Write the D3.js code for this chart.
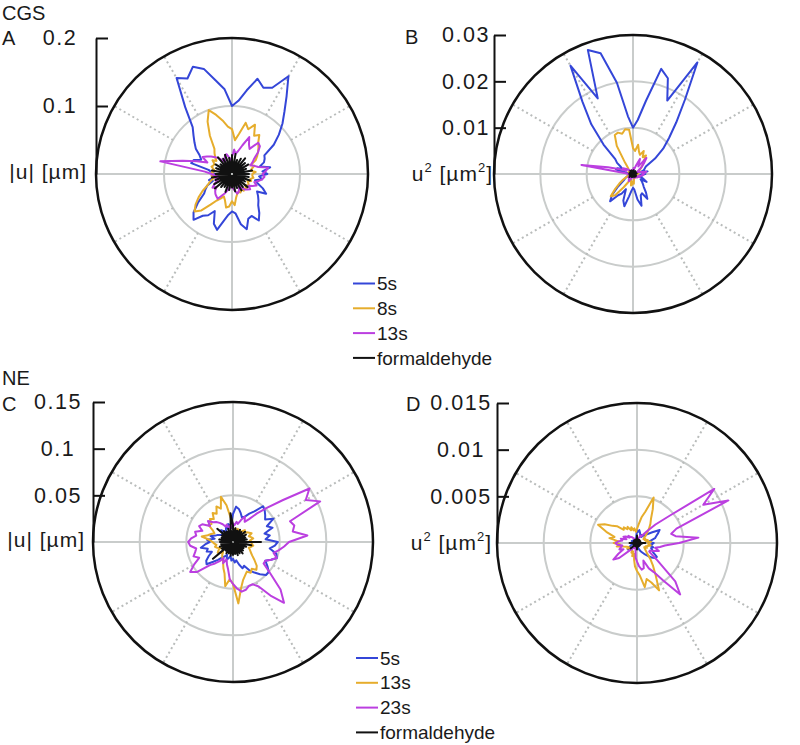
<!DOCTYPE html>
<html><head><meta charset="utf-8">
<script src="https://cdn.jsdelivr.net/npm/d3@7"></script>
<style>
body{margin:0;background:#fff}
text{font-family:"Liberation Sans",Arial,Helvetica,sans-serif;fill:#1a1a1a}
</style>
</head><body>
<svg id="chart" width="800" height="745"></svg>
<script>
// ---------- DATA (values equally spaced in angle, counter-clockwise from east) ----------
const A_5s = [0.052,0.045,0.057,0.042,0.05,0.053, 0.055,0.075,0.09,0.105,0.12,0.14, 0.166,0.14,0.135,0.145,0.125,0.108,
  0.1,0.125,0.14,0.16,0.168,0.155, 0.163,0.12,0.09,0.08,0.072,0.065, 0.055,0.05,0.06,0.062,0.035,0.03,
  0.025,0.03,0.028,0.035,0.03,0.04, 0.045,0.05,0.065,0.08,0.088,0.075, 0.07,0.06,0.078,0.085,0.07,0.06,
  0.055,0.058,0.075,0.084,0.07,0.068, 0.079,0.07,0.06,0.055,0.05,0.045, 0.058,0.05,0.04,0.035,0.045,0.04];
const A_8s = [0.03,0.035,0.028,0.03,0.035,0.03, 0.04,0.045,0.05,0.055,0.06,0.07, 0.065,0.08,0.07,0.078,0.06,0.05,
  0.066,0.07,0.08,0.09,0.1,0.085, 0.065,0.045,0.04,0.035,0.03,0.035, 0.03,0.03,0.032,0.028,0.025,0.03,
  0.028,0.03,0.025,0.03,0.035,0.04, 0.05,0.06,0.07,0.078,0.07,0.055, 0.045,0.04,0.035,0.04,0.05,0.048,
  0.04,0.046,0.035,0.03,0.028,0.03, 0.025,0.03,0.028,0.03,0.025,0.03, 0.028,0.025,0.03,0.028,0.032,0.03];
const A_13s = [0.045,0.05,0.054,0.04,0.035,0.03, 0.035,0.04,0.05,0.058,0.06,0.045, 0.05,0.06,0.045,0.035,0.03,0.036,
  0.025,0.02,0.025,0.03,0.03,0.025, 0.02,0.025,0.03,0.035,0.04,0.045, 0.05,0.04,0.055,0.075,0.107,0.04,
  0.03,0.025,0.02,0.025,0.02,0.025, 0.03,0.035,0.03,0.035,0.038,0.04, 0.042,0.035,0.03,0.025,0.02,0.02,
  0.018,0.022,0.025,0.03,0.028,0.025, 0.02,0.025,0.03,0.032,0.035,0.03, 0.035,0.04,0.035,0.04,0.045,0.048];
const A_form = [0.025,0.004,0.03,0.003,0.022,0.005,0.028,0.003,0.025,0.004,0.03,0.003,
  0.026,0.004,0.022,0.005,0.03,0.003,0.028,0.004,0.024,0.005,0.03,0.003,
  0.026,0.004,0.032,0.003,0.022,0.004,0.028,0.005,0.025,0.003,0.03,0.004,
  0.024,0.003,0.03,0.004,0.026,0.003,0.03,0.005,0.033,0.004,0.025,0.003,
  0.022,0.004,0.028,0.003,0.024,0.004,0.02,0.005,0.026,0.003,0.022,0.004,
  0.028,0.003,0.025,0.004,0.03,0.003,0.022,0.005,0.028,0.003,0.025,0.004];

const B_5s = [0.0027,0.002,0.0032,0.0018,0.0025,0.0028, 0.0032,0.0058,0.0085,0.011,0.0145,0.0195, 0.0278,0.0175,0.022,0.0235,0.016,0.0117,
  0.01,0.0125,0.02,0.027,0.0285,0.018, 0.027,0.019,0.014,0.009,0.005,0.0042, 0.003,0.0025,0.0036,0.0038,0.0012,0.0009,
  0.0006,0.0009,0.0008,0.0012,0.0009,0.0016, 0.002,0.0025,0.0042,0.0064,0.0077,0.0056, 0.0049,0.0036,0.0061,0.0072,0.0049,0.0036,
  0.003,0.0034,0.0056,0.0071,0.0049,0.0046, 0.0062,0.0049,0.0036,0.003,0.0025,0.002, 0.0034,0.0025,0.0016,0.0012,0.002,0.0016];
const B_8s = [0.0009,0.0012,0.0008,0.0009,0.0012,0.0009, 0.0016,0.002,0.0025,0.003,0.0036,0.0049, 0.0042,0.0055,0.0044,0.005,0.0064,0.005,
  0.0056,0.0096,0.0098,0.009,0.0095,0.0093, 0.007,0.003,0.0016,0.0012,0.0009,0.0012, 0.0009,0.0009,0.001,0.0008,0.0006,0.0009,
  0.0008,0.0009,0.0006,0.0009,0.0012,0.0016, 0.0025,0.0036,0.005,0.0068,0.006,0.0035, 0.002,0.0016,0.0012,0.0016,0.0025,0.0023,
  0.0016,0.0021,0.0012,0.0009,0.0008,0.0009, 0.0006,0.0009,0.0008,0.0009,0.0006,0.0009, 0.0008,0.0006,0.0009,0.0008,0.001,0.0009];
const B_13s = [0.002,0.0025,0.0029,0.0016,0.0012,0.0009, 0.0012,0.0016,0.0025,0.0034,0.0045,0.002, 0.0025,0.0036,0.002,0.0012,0.0009,0.0013,
  0.0006,0.0004,0.0006,0.0009,0.0009,0.0006, 0.0004,0.0006,0.0009,0.0012,0.0016,0.002, 0.0025,0.0016,0.003,0.0056,0.0113,0.0016,
  0.0009,0.0006,0.0004,0.0006,0.0004,0.0006, 0.0009,0.0012,0.0009,0.0012,0.0014,0.0016, 0.0018,0.0012,0.0009,0.0006,0.0004,0.0004,
  0.0003,0.0005,0.0006,0.0009,0.0008,0.0006, 0.0004,0.0006,0.0009,0.001,0.0012,0.0009, 0.0012,0.0016,0.0012,0.0016,0.002,0.0023];
const B_form = [0.0006,0.0001,0.0008,0.0001,0.0005,0.0001,0.0007,0.0001,0.0006,0.0001,0.0008,0.0001,
  0.0006,0.0001,0.0005,0.0001,0.0008,0.0001,0.0007,0.0001,0.0006,0.0001,0.0008,0.0001,
  0.0006,0.0001,0.0009,0.0001,0.0005,0.0001,0.0007,0.0001,0.0006,0.0001,0.0008,0.0001,
  0.0006,0.0001,0.0008,0.0001,0.0006,0.0001,0.0008,0.0001,0.001,0.0001,0.0006,0.0001,
  0.0005,0.0001,0.0007,0.0001,0.0006,0.0001,0.0005,0.0001,0.0006,0.0001,0.0005,0.0001,
  0.0007,0.0001,0.0006,0.0001,0.0008,0.0001,0.0005,0.0001,0.0007,0.0001,0.0006,0.0001];

const C_5s = [0.048,0.035,0.04,0.035,0.045,0.04, 0.05,0.042,0.045,0.048,0.05,0.04, 0.035,0.03,0.028,0.032,0.036,0.038,
  0.03,0.02,0.018,0.02,0.015,0.018, 0.015,0.012,0.015,0.018,0.015,0.012, 0.015,0.018,0.02,0.025,0.02,0.028,
  0.025,0.03,0.035,0.028,0.03,0.025, 0.03,0.035,0.037,0.03,0.025,0.02, 0.018,0.015,0.02,0.018,0.015,0.02,
  0.018,0.022,0.02,0.025,0.03,0.028, 0.035,0.04,0.045,0.05,0.05,0.045, 0.04,0.045,0.05,0.048,0.04,0.045];
const C_13s = [0.02,0.018,0.022,0.02,0.018,0.022, 0.02,0.018,0.015,0.018,0.015,0.012, 0.015,0.012,0.015,0.012,0.015,0.012,
  0.015,0.025,0.04,0.05,0.038,0.042, 0.035,0.038,0.032,0.035,0.03,0.032, 0.025,0.022,0.025,0.028,0.034,0.025,
  0.022,0.02,0.018,0.02,0.018,0.015, 0.018,0.02,0.018,0.015,0.018,0.02, 0.022,0.025,0.03,0.035,0.048,0.04,
  0.045,0.066,0.05,0.042,0.038,0.035, 0.038,0.035,0.039,0.036,0.03,0.025, 0.022,0.02,0.018,0.02,0.022,0.02];
const C_23s = [0.06,0.08,0.065,0.068,0.065,0.103, 0.09,0.1,0.07,0.052,0.04,0.03, 0.025,0.03,0.025,0.02,0.022,0.018,
  0.02,0.015,0.018,0.015,0.02,0.018, 0.022,0.025,0.028,0.03,0.035,0.03, 0.038,0.04,0.035,0.042,0.04,0.045,
  0.048,0.046,0.04,0.042,0.045,0.04, 0.048,0.056,0.05,0.035,0.03,0.025, 0.02,0.025,0.02,0.025,0.03,0.04,
  0.045,0.05,0.054,0.053,0.05,0.05, 0.055,0.07,0.085,0.072,0.052,0.04, 0.04,0.045,0.05,0.045,0.05,0.055];
const C_form = [0.03,0.003,0.015,0.002,0.014,0.003,0.016,0.002,0.017,0.003,0.014,0.002,
  0.015,0.003,0.013,0.002,0.015,0.003,0.018,0.031,0.014,0.002,0.015,0.003,
  0.013,0.002,0.015,0.003,0.022,0.002,0.014,0.003,0.013,0.002,0.015,0.003,
  0.014,0.002,0.013,0.003,0.015,0.002,0.014,0.003,0.028,0.002,0.012,0.003,
  0.014,0.002,0.013,0.003,0.015,0.002,0.014,0.003,0.013,0.002,0.015,0.003,
  0.014,0.002,0.016,0.003,0.014,0.002,0.013,0.003,0.015,0.002,0.02,0.003];

const D_5s = [0.0018,0.0012,0.0015,0.002,0.0022,0.0025, 0.0028,0.002,0.0015,0.0012,0.001,0.0008, 0.001,0.0008,0.001,0.0012,0.0014,0.0012,
  0.0014,0.0008,0.0005,0.0004,0.0005,0.0004, 0.0003,0.0004,0.0003,0.0004,0.0005,0.0004, 0.0005,0.0004,0.0006,0.0005,0.0004,0.0005,
  0.0006,0.0005,0.0006,0.0005,0.0007,0.0008, 0.001,0.0012,0.0011,0.0009,0.0007,0.0005, 0.0004,0.0005,0.0004,0.0003,0.0004,0.0005,
  0.0004,0.0005,0.0004,0.0006,0.0008,0.001, 0.0012,0.0015,0.0018,0.0022,0.0025,0.0026, 0.002,0.0018,0.0016,0.0018,0.0015,0.0016];
const D_13s = [0.0012,0.0015,0.001,0.0012,0.0009,0.001, 0.0008,0.0009,0.0012,0.0015,0.002,0.0025, 0.003,0.004,0.0052,0.0035,0.0028,0.002,
  0.0015,0.0012,0.0016,0.0014,0.0018,0.0015, 0.002,0.0018,0.0022,0.002,0.0028,0.0032, 0.004,0.0046,0.0035,0.0025,0.003,0.002,
  0.0025,0.0018,0.0022,0.0015,0.0012,0.001, 0.0012,0.0009,0.001,0.0008,0.001,0.0009, 0.0012,0.001,0.0015,0.0012,0.0018,0.0025,
  0.003,0.0035,0.0048,0.004,0.0045,0.0056, 0.004,0.003,0.0022,0.0015,0.0012,0.001, 0.0009,0.0012,0.001,0.0012,0.0015,0.0012];
const D_23s = [0.0045,0.0066,0.0042,0.0038,0.0045,0.0108, 0.0082,0.0101,0.0045,0.0028,0.0016,0.001, 0.0008,0.0009,0.0006,0.0005,0.0005,0.0004,
  0.0004,0.0003,0.0004,0.0003,0.0004,0.0004, 0.0005,0.0006,0.0008,0.0009,0.0012,0.001, 0.0014,0.0016,0.0012,0.0018,0.0016,0.002,
  0.0023,0.0021,0.0016,0.0018,0.002,0.0016, 0.0023,0.0031,0.0025,0.0012,0.0009,0.0006, 0.0004,0.0006,0.0004,0.0006,0.0009,0.0016,
  0.002,0.0025,0.0029,0.0028,0.002,0.003, 0.0036,0.0049,0.0072,0.0058,0.0027,0.0016, 0.0016,0.002,0.0025,0.002,0.0025,0.003];
const D_form = [0.0009,0.0001,0.0004,0.0001,0.0003,0.0001,0.0004,0.0001,0.0003,0.0001,0.0004,0.0001,
  0.0003,0.0001,0.0004,0.0001,0.0003,0.0001,0.0008,0.0001,0.0003,0.0001,0.0004,0.0001,
  0.0003,0.0001,0.0004,0.0001,0.0003,0.0001,0.0004,0.0001,0.0003,0.0001,0.0004,0.0001,
  0.0008,0.0001,0.0003,0.0001,0.0004,0.0001,0.0003,0.0001,0.0009,0.0001,0.0003,0.0001,
  0.0004,0.0001,0.0003,0.0001,0.0004,0.0001,0.0007,0.0001,0.0003,0.0001,0.0004,0.0001,
  0.0003,0.0001,0.0004,0.0001,0.0003,0.0001,0.0004,0.0001,0.0003,0.0001,0.0005,0.0001];

const ticksA = [0.1, 0.2],           tickLabelsA = ["0.1", "0.2"];
const ticksB = [0.01, 0.02, 0.03],   tickLabelsB = ["0.01", "0.02", "0.03"];
const ticksC = [0.05, 0.1, 0.15],    tickLabelsC = ["0.05", "0.1", "0.15"];
const ticksD = [0.005, 0.01, 0.015], tickLabelsD = ["0.005", "0.01", "0.015"];
const legendTop = ["5s", "8s", "13s", "formaldehyde"];
const legendBottom = ["5s", "13s", "23s", "formaldehyde"];
const seriesColors = ["#3446d8", "#e6ad2c", "#bb3fe0", "#111111"];

// ---------- DRAWING ----------
const svg = d3.select("#chart");
const gridColor = "#c9cccb";
const spokeDeg = [30, 60, 120, 150, 210, 240, 300, 330];

const panels = [
  {series:[A_5s,A_8s,A_13s,A_form], max:0.2,   ticks:ticksA, labels:tickLabelsA, cx:232, cy:174, R:136, labelCx:60,  titleX:87,  titleY:172, unit:"abs"},
  {series:[B_5s,B_8s,B_13s,B_form], max:0.03,  ticks:ticksB, labels:tickLabelsB, cx:633, cy:174, R:139, labelCx:466, titleX:493, titleY:174, unit:"sq"},
  {series:[C_5s,C_13s,C_23s,C_form], max:0.15, ticks:ticksC, labels:tickLabelsC, cx:233, cy:542, R:140, labelCx:58,  titleX:85,  titleY:540, unit:"abs"},
  {series:[D_5s,D_13s,D_23s,D_form], max:0.015,ticks:ticksD, labels:tickLabelsD, cx:637, cy:543, R:140, labelCx:461, titleX:492, titleY:543, unit:"sq"}
];

panels.forEach(p => {
  const r = d3.scaleLinear().domain([0, p.max]).range([0, p.R]);
  const g = svg.append("g").attr("transform", `translate(${p.cx},${p.cy})`);
  const rings = p.ticks.slice(0, -1);
  g.selectAll("circle.ring").data(rings).join("circle")
    .attr("r", d => r(d)).attr("fill", "none").attr("stroke", gridColor).attr("stroke-width", 2);
  g.append("line").attr("x1", -p.R).attr("x2", p.R).attr("y1", 0).attr("y2", 0)
    .attr("stroke", gridColor).attr("stroke-width", 2);
  g.append("line").attr("x1", 0).attr("x2", 0).attr("y1", -p.R).attr("y2", p.R)
    .attr("stroke", gridColor).attr("stroke-width", 2);
  const r0 = r(rings[0]);
  g.selectAll("line.spoke").data(spokeDeg).join("line")
    .attr("x1", d => r0 * Math.cos(d * Math.PI / 180)).attr("y1", d => -r0 * Math.sin(d * Math.PI / 180))
    .attr("x2", d => p.R * Math.cos(d * Math.PI / 180)).attr("y2", d => -p.R * Math.sin(d * Math.PI / 180))
    .attr("stroke", "#b9bcbb").attr("stroke-width", 2).attr("stroke-dasharray", "2,3");
  g.append("circle").attr("r", p.R).attr("fill", "none").attr("stroke", "#111").attr("stroke-width", 2.5);
  const line = d3.lineRadial()
    .angle((d, i, arr) => Math.PI / 2 - i * 2 * Math.PI / arr.length)
    .radius(d => r(d))
    .curve(d3.curveLinearClosed);
  p.series.forEach((s, k) => {
    g.append("path").attr("d", line(s)).attr("fill", "none")
      .attr("stroke", seriesColors[k]).attr("stroke-width", 2).attr("stroke-linejoin", "round");
  });
  const y = d3.scaleLinear().domain([0, p.max]).range([p.cy, p.cy - p.R]);
  const ax = p.cx - p.R;
  const axis = d3.axisLeft(y).tickValues(p.ticks).tickSizeInner(-12).tickSizeOuter(0)
    .tickFormat((d, i) => p.labels[i]);
  const ag = svg.append("g").attr("transform", `translate(${ax},0)`).call(axis);
  ag.select(".domain").attr("stroke", "#111").attr("stroke-width", 2);
  ag.selectAll(".tick line").attr("stroke", "#111").attr("stroke-width", 2);
  ag.selectAll(".tick text").attr("x", p.labelCx - ax).attr("text-anchor", "middle")
    .attr("font-size", 21.5).attr("letter-spacing", "1.5px").attr("fill", "#1a1a1a")
    .attr("font-family", '"Liberation Sans",Arial,sans-serif');
  const t = svg.append("text").attr("x", p.titleX).attr("y", p.titleY).attr("dy", "0.35em")
    .attr("text-anchor", "end").attr("font-size", 21).attr("letter-spacing", "1px");
  if (p.unit === "abs") {
    t.text("|u| [µm]");
  } else {
    t.append("tspan").text("u");
    t.append("tspan").attr("dy", -9).attr("font-size", 13).text("2");
    t.append("tspan").attr("dy", 9).text(" [µm");
    t.append("tspan").attr("dy", -9).attr("font-size", 13).text("2");
    t.append("tspan").attr("dy", 9).text("]");
  }
});

const lab = [["CGS", 2, 20], ["A", 2, 45], ["B", 405, 44], ["NE", 2, 385], ["C", 2, 411], ["D", 406, 411]];
svg.selectAll("text.plab").data(lab).join("text").attr("class", "plab")
  .attr("x", d => d[1]).attr("y", d => d[2]).attr("font-size", 20).text(d => d[0]);

function legend(items, x0, y0, step) {
  const g = svg.append("g");
  items.forEach((name, i) => {
    const yy = y0 + i * step;
    g.append("line").attr("x1", x0).attr("x2", x0 + 22).attr("y1", yy).attr("y2", yy)
      .attr("stroke", seriesColors[i]).attr("stroke-width", 2);
    g.append("text").attr("x", x0 + 24).attr("y", yy).attr("dy", "0.35em")
      .attr("font-size", 19).text(name);
  });
}
legend(legendTop, 353, 283.5, 24.8);
legend(legendBottom, 356, 658, 24.8);
</script>
</body></html>
